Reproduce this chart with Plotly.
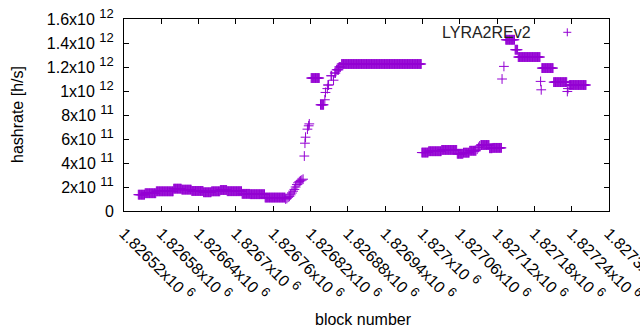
import plotly.graph_objects as go

# ---- data: runs of consecutive blocks sharing one hashrate value ----
seg_start = [1826543, 1826554, 1826572, 1826600, 1826613, 1826629, 1826648, 1826661,
             1826675, 1826686, 1826710, 1826723, 1826747,
             1826780, 1826782, 1826784, 1826786, 1826788, 1826790, 1826792, 1826794,
             1826796, 1826798, 1826800, 1826802, 1826804, 1826806, 1826808,
             1826810, 1826811, 1826812, 1826815, 1826817, 1826818,
             1826821, 1826836, 1826843, 1826844, 1826847, 1826848, 1826853, 1826857,
             1826859, 1826862, 1826866, 1826870,
             1826999, 1827010, 1827031, 1827056, 1827066, 1827076, 1827088, 1827090,
             1827092, 1827094, 1827108, 1827113,
             1827128, 1827131, 1827134, 1827149, 1827154, 1827190, 1827191, 1827192,
             1827211, 1827233, 1827234, 1827236]
seg_end = [1826553, 1826571, 1826599, 1826612, 1826628, 1826647, 1826660, 1826674,
           1826685, 1826709, 1826722, 1826746, 1826779,
           1826780, 1826782, 1826784, 1826786, 1826788, 1826790, 1826792, 1826794,
           1826796, 1826798, 1826800, 1826802, 1826804, 1826806, 1826808,
           1826810, 1826811, 1826812, 1826815, 1826817, 1826818,
           1826834, 1826841, 1826843, 1826844, 1826847, 1826849, 1826854, 1826857,
           1826860, 1826865, 1826868, 1826998,
           1827009, 1827030, 1827055, 1827065, 1827075, 1827086, 1827088, 1827090,
           1827092, 1827107, 1827112, 1827127,
           1827128, 1827131, 1827148, 1827153, 1827189, 1827190, 1827191, 1827210,
           1827232, 1827233, 1827234, 1827263]
seg_rate = [1.36e11, 1.48e11, 1.64e11, 1.86e11, 1.78e11, 1.67e11, 1.56e11, 1.64e11,
            1.75e11, 1.65e11, 1.43e11, 1.40e11, 1.12e11,
            1.00e11, 1.05e11, 1.15e11, 1.22e11, 1.35e11, 1.50e11, 1.65e11, 1.80e11,
            2.00e11, 2.20e11, 2.35e11, 2.45e11, 2.52e11, 2.58e11, 2.65e11,
            4.58e11, 5.65e11, 6.15e11, 6.82e11, 7.10e11, 7.26e11,
            1.108e12, 8.85e11, 9.27e11, 9.88e11, 1.02e12, 1.05e12, 1.127e12, 1.09e12,
            1.15e12, 1.177e12, 1.20e12, 1.225e12,
            4.87e11, 4.98e11, 5.09e11, 4.77e11, 4.86e11, 5.02e11, 5.15e11, 5.30e11,
            5.42e11, 5.50e11, 5.23e11, 5.26e11,
            1.10e12, 1.205e12, 1.427e12, 1.344e12, 1.283e12, 1.08e12, 1.01e12, 1.191e12,
            1.074e12, 0.996e12, 1.02e12, 1.05e12]

SUP = "<sup><span style='font-size:13px'>{}</span></sup>"
x_tick_vals = [1826520, 1826580, 1826640, 1826700, 1826760, 1826820, 1826880,
               1826940, 1827000, 1827060, 1827120, 1827180, 1827240, 1827300]
x_tick_mant = ["1.82652", "1.82658", "1.82664", "1.8267", "1.82676", "1.82682",
               "1.82688", "1.82694", "1.827", "1.82706", "1.82712", "1.82718",
               "1.82724", "1.8273"]
x_tick_exp = ["6"] * 14
y_tick_vals = [0, 2e11, 4e11, 6e11, 8e11, 1e12, 1.2e12, 1.4e12, 1.6e12]
y_tick_mant = ["0", "2", "4", "6", "8", "1", "1.2", "1.4", "1.6"]
y_tick_exp = ["", "11", "11", "11", "11", "12", "12", "12", "12"]
series_name = "LYRA2REv2"

x_tick_text = [m + "x10 " + SUP.format(e) for m, e in zip(x_tick_mant, x_tick_exp)]
y_tick_text = [m if e == "" else m + "x10 " + SUP.format(e)
               for m, e in zip(y_tick_mant, y_tick_exp)]

blocks, rates = [], []
for s, e, r in zip(seg_start, seg_end, seg_rate):
    for b in range(s, e + 1):
        blocks.append(b)
        rates.append(r)

COLOR = "#9400D3"
FONT = "Liberation Sans, Arial, sans-serif"

fig = go.Figure()
fig.add_trace(go.Scatter(
    x=blocks, y=rates, mode="markers", name=series_name, showlegend=False,
    marker=dict(symbol="cross-thin", size=7, color=COLOR,
                line=dict(color=COLOR, width=1)),
))

axis_common = dict(showline=True, linecolor="black", linewidth=1, mirror="allticks",
                   ticks="inside", ticklen=5, tickcolor="black", tickwidth=1,
                   showgrid=False, zeroline=False, automargin=False,
                   ticklabeloverflow="allow",
                   tickfont=dict(family=FONT, size=16, color="black"))

fig.update_layout(
    width=640, height=330,
    margin=dict(l=124, r=31, t=19, b=119),
    paper_bgcolor="white", plot_bgcolor="white",
    font=dict(family=FONT, size=16, color="black"),
    xaxis=dict(range=[1826520, 1827300], tickmode="array", tickvals=x_tick_vals,
               ticktext=x_tick_text, tickangle=45, ticklabelstandoff=6, **axis_common),
    yaxis=dict(range=[0, 1.6e12], tickmode="array", tickvals=y_tick_vals,
               ticktext=y_tick_text, ticklabelstandoff=6, **axis_common),
    annotations=[
        dict(text=series_name, xref="paper", yref="paper", x=0.8433, y=0.9307,
             xanchor="right", yanchor="middle", showarrow=False,
             font=dict(family=FONT, size=16, color="#222222")),
        dict(text="hashrate [h/s]", xref="paper", yref="paper", x=-0.2206, y=0.5,
             xanchor="center", yanchor="middle", textangle=-90, showarrow=False,
             font=dict(family=FONT, size=16, color="black")),
        dict(text="block number", xref="paper", yref="paper", x=0.4948, y=-0.5625,
             xanchor="center", yanchor="middle", showarrow=False,
             font=dict(family=FONT, size=16, color="black")),
    ],
    shapes=[
        dict(type="line", xref="paper", yref="paper", xsizemode="pixel", ysizemode="pixel",
             xanchor=0.914, yanchor=0.9307, x0=-4, x1=4, y0=0, y1=0,
             line=dict(color=COLOR, width=1)),
        dict(type="line", xref="paper", yref="paper", xsizemode="pixel", ysizemode="pixel",
             xanchor=0.914, yanchor=0.9307, x0=0, x1=0, y0=-4, y1=4,
             line=dict(color=COLOR, width=1)),
    ],
)

fig.write_html("out.html", config={"displayModeBar": False, "staticPlot": True},
               post_script="document.body.style.margin='0';"
                           "document.body.style.overflow='hidden';")
